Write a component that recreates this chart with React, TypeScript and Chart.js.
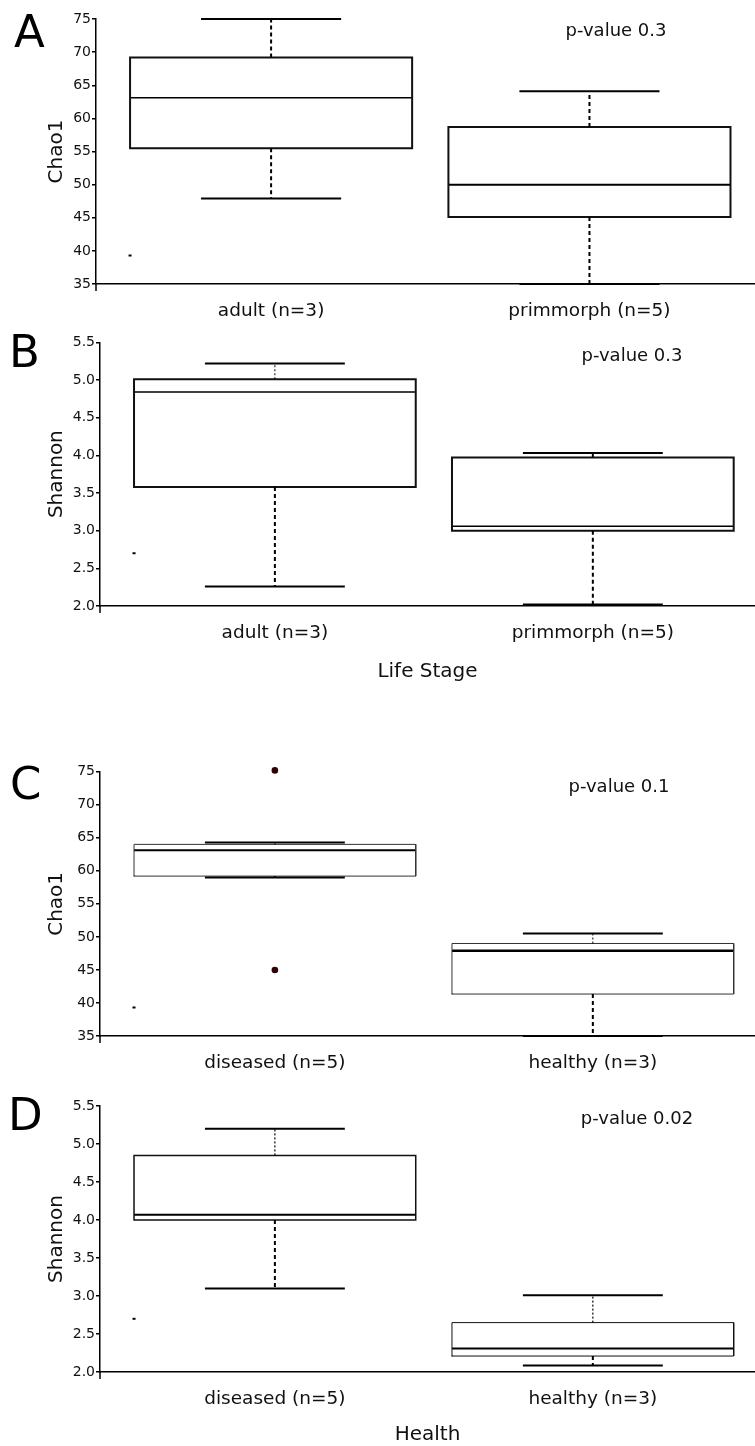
import React, { useEffect, useRef } from "react";
import { Chart, registerables } from "chart.js";

Chart.register(...registerables);

const FONT = "'DejaVu Sans', Verdana, sans-serif";
Chart.defaults.font.family = FONT;

// ---------- categories & tick labels ----------
const lifeStageLabels = ["adult (n=3)", "primmorph (n=5)"];
const healthLabels = ["diseased (n=5)", "healthy (n=3)"];
const chaoTicks = [35, 40, 45, 50, 55, 60, 65, 70, 75];
const shannonTicks = [2.0, 2.5, 3.0, 3.5, 4.0, 4.5, 5.0, 5.5];

// ---------- Panel A: Chao1 by life stage ----------
const aLow = [47.9, 35.0];
const aQ1 = [55.5, 45.1];
const aMed = [63.1, 50.0];
const aQ3 = [69.2, 58.7];
const aHigh = [75.0, 64.1];
const aOutliers: number[][] = [[], []];
const aMark = [39.3];

// ---------- Panel B: Shannon by life stage ----------
const bLow = [2.26, 2.02];
const bQ1 = [3.58, 3.0];
const bMed = [4.84, 3.06];
const bQ3 = [5.01, 3.97];
const bHigh = [5.22, 4.03];
const bOutliers: number[][] = [[], []];
const bMark = [2.7];

// ---------- Panel C: Chao1 by health ----------
const cLow = [59.0, 35.0];
const cQ1 = [59.2, 41.35];
const cMed = [63.1, 47.9];
const cQ3 = [64.0, 49.0];
const cHigh = [64.3, 50.5];
const cOutliers: number[][] = [[75.2, 45.0], []];
const cMark = [39.3];

// ---------- Panel D: Shannon by health ----------
const dLow = [3.1, 2.085];
const dQ1 = [4.0, 2.21];
const dMed = [4.07, 2.31];
const dQ3 = [4.85, 2.65];
const dHigh = [5.2, 3.01];
const dOutliers: number[][] = [[], []];
const dMark = [2.7];

const pValues = ["p-value 0.3", "p-value 0.3", "p-value 0.1", "p-value 0.02"];

// ---------- style constants ----------
const BOX_HALF = 0.443;
const CAP_HALF = 0.22;
const X_MIN = 0.45;

type Panel = {
  letter: string;
  top: number;
  height: number;
  padTop: number;
  plotH: number;
  axisX: number;
  xMax: number;
  yTitle: string;
  xTitle?: string;
  xTitlePad: number;
  cats: string[];
  low: number[];
  q1: number[];
  med: number[];
  q3: number[];
  high: number[];
  outliers: number[][];
  mark: number[];
  ticks: number[];
  decimals: boolean;
  boxW: number[];
  medW: number[];
  upperWhiskerW: number[];
  boxColor: string;
  letterLeft: number;
  letterTop: number;
  pText: string;
  pX: number;
  pY: number;
};

const panels: Panel[] = [
  {
    letter: "A", top: 0, height: 330, padTop: 19, plotH: 265, axisX: 96, xMax: 2.52,
    yTitle: "Chao1", xTitlePad: 0, cats: lifeStageLabels,
    low: aLow, q1: aQ1, med: aMed, q3: aQ3, high: aHigh, outliers: aOutliers, mark: aMark,
    ticks: chaoTicks, decimals: false, boxW: [2, 2], medW: [1.5, 2], upperWhiskerW: [2, 2],
    boxColor: "#111",
    letterLeft: 14, letterTop: 9, pText: pValues[0], pX: 616, pY: 30,
  },
  {
    letter: "B", top: 330, height: 360, padTop: 12.3, plotH: 263.7, axisX: 100, xMax: 2.51,
    yTitle: "Shannon", xTitle: "Life Stage", xTitlePad: 6, cats: lifeStageLabels,
    low: bLow, q1: bQ1, med: bMed, q3: bQ3, high: bHigh, outliers: bOutliers, mark: bMark,
    ticks: shannonTicks, decimals: true, boxW: [2, 2], medW: [1.5, 1.5], upperWhiskerW: [1, 2],
    boxColor: "#111",
    letterLeft: 9, letterTop: 329, pText: pValues[1], pX: 632, pY: 355,
  },
  {
    letter: "C", top: 730, height: 345, padTop: 41.7, plotH: 264.3, axisX: 100, xMax: 2.51,
    yTitle: "Chao1", xTitlePad: 0, cats: healthLabels,
    low: cLow, q1: cQ1, med: cMed, q3: cQ3, high: cHigh, outliers: cOutliers, mark: cMark,
    ticks: chaoTicks, decimals: false, boxW: [1, 1], medW: [2, 2.5], upperWhiskerW: [1, 1],
    boxColor: "#333",
    letterLeft: 10, letterTop: 761, pText: pValues[2], pX: 619, pY: 786,
  },
  {
    letter: "D", top: 1075, height: 380, padTop: 31, plotH: 266, axisX: 100, xMax: 2.51,
    yTitle: "Shannon", xTitle: "Health", xTitlePad: 8, cats: healthLabels,
    low: dLow, q1: dQ1, med: dMed, q3: dQ3, high: dHigh, outliers: dOutliers, mark: dMark,
    ticks: shannonTicks, decimals: true, boxW: [1.5, 1], medW: [2, 2], upperWhiskerW: [1.2, 1.2],
    boxColor: "#111",
    letterLeft: 8, letterTop: 1092, pText: pValues[3], pX: 637, pY: 1118,
  },
];

const axisExtend = {
  id: "axisExtend",
  afterDraw(chart: any) {
    const { ctx, chartArea } = chart;
    ctx.save();
    ctx.strokeStyle = "#000";
    ctx.lineWidth = 1.5;
    ctx.beginPath();
    ctx.moveTo(chartArea.left, chartArea.bottom);
    ctx.lineTo(chartArea.left, chartArea.bottom + 7);
    ctx.stroke();
    ctx.restore();
  },
};

function buildDatasets(p: Panel) {
  const ds: any[] = [];
  const base = {
    type: "line",
    pointRadius: 0,
    pointHoverRadius: 0,
    fill: false,
    spanGaps: false,
    tension: 0,
    clip: false,
    borderColor: "#000",
  };
  p.cats.forEach((_, i) => {
    const c = i + 1;
    // upper whisker (dashed)
    ds.push({
      ...base,
      borderWidth: p.upperWhiskerW[i],
      borderDash: p.upperWhiskerW[i] < 1.5 ? [2, 2] : [4, 3],
      data: [{ x: c, y: p.q3[i] }, { x: c, y: p.high[i] }],
    });
    // lower whisker (dashed)
    ds.push({
      ...base,
      borderWidth: 2,
      borderDash: [4, 3],
      data: [{ x: c, y: p.q1[i] }, { x: c, y: p.low[i] }],
    });
    // caps
    ds.push({
      ...base,
      borderWidth: 2,
      data: [
        { x: c - CAP_HALF, y: p.high[i] }, { x: c + CAP_HALF, y: p.high[i] }, { x: c, y: null },
        { x: c - CAP_HALF, y: p.low[i] }, { x: c + CAP_HALF, y: p.low[i] },
      ],
    });
    // box
    ds.push({
      ...base,
      borderWidth: p.boxW[i],
      borderColor: p.boxColor,
      borderJoinStyle: "miter",
      borderCapStyle: "square",
      data: [
        { x: c - BOX_HALF, y: p.q1[i] }, { x: c - BOX_HALF, y: p.q3[i] },
        { x: c + BOX_HALF, y: p.q3[i] }, { x: c + BOX_HALF, y: p.q1[i] },
        { x: c - BOX_HALF, y: p.q1[i] },
      ],
    });
    // median
    ds.push({
      ...base,
      borderWidth: p.medW[i],
      data: [{ x: c - BOX_HALF, y: p.med[i] }, { x: c + BOX_HALF, y: p.med[i] }],
    });
    // outliers
    if (p.outliers[i].length) {
      ds.push({
        type: "line",
        showLine: false,
        clip: false,
        pointRadius: 3.3,
        pointBackgroundColor: "#2e0202",
        pointBorderWidth: 0,
        data: p.outliers[i].map((v) => ({ x: c, y: v })),
      });
    }
  });
  // small tick marks at the left edge of the first box
  ds.push({
    type: "line",
    showLine: false,
    pointStyle: "line",
    pointRadius: 1.5,
    pointBorderWidth: 2,
    pointBorderColor: "#000",
    data: p.mark.map((v) => ({ x: 1 - BOX_HALF, y: v })),
  });
  return ds;
}

function PanelChart({ p }: { p: Panel }) {
  const ref = useRef<HTMLCanvasElement | null>(null);
  useEffect(() => {
    if (!ref.current) return;
    const chart = new Chart(ref.current, {
      type: "line",
      data: { datasets: buildDatasets(p) },
      options: {
        animation: false,
        responsive: false,
        devicePixelRatio: 1,
        events: [],
        layout: { autoPadding: false, padding: { top: p.padTop, left: 0, right: 0, bottom: 0 } },
        plugins: {
          legend: { display: false },
          tooltip: { enabled: false },
          title: { display: false },
        },
        scales: {
          x: {
            type: "linear",
            min: X_MIN,
            max: p.xMax,
            afterBuildTicks: (s: any) => {
              s.ticks = p.cats.map((_, i) => ({ value: i + 1 }));
            },
            afterFit: (s: any) => {
              s.height = p.height - p.padTop - p.plotH;
              s.paddingLeft = 0;
              s.paddingRight = 0;
            },
            grid: { display: false, drawTicks: false },
            border: { display: true, color: "#000", width: 1.5 },
            ticks: {
              padding: 16,
              color: "#111",
              autoSkip: false,
              maxRotation: 0,
              font: { size: 18.5, family: FONT },
              callback: (v: any) => p.cats[Math.round(Number(v)) - 1] ?? "",
            },
            title: p.xTitle
              ? {
                  display: true,
                  text: p.xTitle,
                  color: "#111",
                  font: { size: 20, family: FONT },
                  padding: { top: 0, bottom: p.xTitlePad },
                }
              : { display: false },
          },
          y: {
            min: p.ticks[0],
            max: p.ticks[p.ticks.length - 1],
            afterBuildTicks: (s: any) => {
              s.ticks = p.ticks.map((v) => ({ value: v }));
            },
            afterFit: (s: any) => {
              s.width = p.axisX;
            },
            grid: {
              display: true,
              drawOnChartArea: false,
              drawTicks: true,
              tickLength: 4,
              color: "#000",
              lineWidth: 1.5,
            },
            border: { display: true, color: "#000", width: 1.5 },
            ticks: {
              padding: 1,
              color: "#111",
              font: { size: 14, family: FONT },
              callback: (v: any) => (p.decimals ? Number(v).toFixed(1) : String(v)),
            },
            title: {
              display: true,
              text: p.yTitle,
              color: "#111",
              font: { size: 20, family: FONT },
              padding: { top: 45, bottom: 0 },
            },
          },
        },
      } as any,
      plugins: [axisExtend],
    } as any);
    return () => chart.destroy();
  }, [p]);

  return (
    <div style={{ position: "absolute", left: 0, top: p.top, width: 755, height: p.height }}>
      <canvas ref={ref} width={755} height={p.height} style={{ width: 755, height: p.height, display: "block" }} />
    </div>
  );
}

export default function App() {
  return (
    <div
      style={{
        position: "absolute",
        left: 0,
        top: 0,
        width: 755,
        height: 1446,
        background: "#fff",
        fontFamily: FONT,
        color: "#000",
        overflow: "hidden",
      }}
    >
      {panels.map((p) => (
        <PanelChart key={p.letter} p={p} />
      ))}
      {panels.map((p) => (
        <div
          key={"L" + p.letter}
          style={{
            position: "absolute",
            left: p.letterLeft,
            top: p.letterTop,
            fontSize: 45,
            lineHeight: "45px",
            fontFamily: FONT,
          }}
        >
          {p.letter}
        </div>
      ))}
      {panels.map((p) => (
        <div
          key={"P" + p.letter}
          style={{
            position: "absolute",
            left: p.pX,
            top: p.pY,
            transform: "translate(-50%, -50%)",
            fontSize: 18,
            lineHeight: "18px",
            whiteSpace: "nowrap",
            color: "#111",
            fontFamily: FONT,
          }}
        >
          {p.pText}
        </div>
      ))}
    </div>
  );
}
